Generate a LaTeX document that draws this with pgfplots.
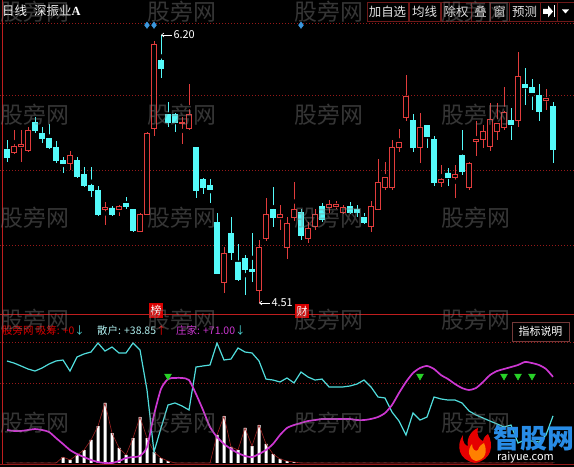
\documentclass[border=0pt]{standalone}
\usepackage{fontspec}
\setmainfont{Noto Sans CJK SC}
\newfontfamily\serifA{Liberation Serif}
\usepackage{pgfplots}
\usepackage{pgfplotstable}
\pgfplotsset{compat=1.18}
\usetikzlibrary{arrows.meta}

\definecolor{cred}{RGB}{225,60,60}
\definecolor{ccyan}{RGB}{84,250,250}
\definecolor{cgrid}{RGB}{150,25,25}
\definecolor{csep}{RGB}{190,30,30}
\definecolor{clcyan}{RGB}{80,220,220}
\definecolor{cmag}{RGB}{205,55,210}
\definecolor{cgreen}{RGB}{40,210,40}
\definecolor{cdiam}{RGB}{60,150,220}
\definecolor{cbox}{RGB}{110,25,25}
\definecolor{cxi}{RGB}{160,35,35}

% rising candles: index, open, high, low, close
\pgfplotstableread{
i O H L C
1 5.46 5.60 5.45 5.50
2 5.50 5.60 5.40 5.51
3 5.47 5.62 5.46 5.60
9 5.39 5.47 5.35 5.44
14 5.10 5.15 5.00 5.11
16 5.10 5.13 5.06 5.12
19 4.96 5.08 4.96 5.07
20 5.07 5.59 5.07 5.58
21 5.61 6.16 5.56 6.14
25 5.64 5.68 5.51 5.65
26 5.61 5.89 5.60 5.70
31 4.64 4.86 4.57 4.82
36 4.59 4.91 4.51 4.86
37 4.92 5.17 4.90 5.07
39 5.05 5.13 4.97 5.07
40 4.86 5.05 4.79 5.01
41 5.05 5.27 5.03 5.10
43 4.92 5.02 4.89 4.98
44 4.99 5.10 4.97 5.07
46 5.11 5.16 5.08 5.13
47 5.12 5.15 5.10 5.13
48 5.08 5.13 5.07 5.11
52 4.99 5.15 4.96 5.12
53 5.10 5.42 5.10 5.27
54 5.24 5.40 5.22 5.30
55 5.24 5.54 5.22 5.49
56 5.49 5.61 5.46 5.52
57 5.68 5.95 5.66 5.81
59 5.49 5.71 5.39 5.62
62 5.27 5.38 5.24 5.29
64 5.30 5.38 5.17 5.32
66 5.24 5.40 5.22 5.39
67 5.53 5.66 5.44 5.54
68 5.54 5.63 5.49 5.59
69 5.50 5.77 5.47 5.67
70 5.59 5.77 5.54 5.64
71 5.62 5.87 5.60 5.71
73 5.66 6.09 5.62 5.94
77 5.79 5.86 5.73 5.80
}\upk

% falling candles: index, open, high, low, close
\pgfplotstableread{
i O H L C
0 5.48 5.54 5.40 5.43
4 5.65 5.68 5.58 5.60
5 5.58 5.62 5.52 5.55
6 5.55 5.64 5.48 5.49
7 5.49 5.53 5.39 5.41
8 5.41 5.43 5.33 5.39
10 5.41 5.43 5.30 5.31
11 5.32 5.37 5.24 5.25
12 5.25 5.37 5.18 5.22
13 5.22 5.25 5.06 5.07
15 5.11 5.12 5.06 5.07
17 5.14 5.18 5.10 5.12
18 5.10 5.10 4.96 4.97
22 6.04 6.20 5.93 5.99
23 5.70 5.78 5.62 5.65
24 5.70 5.71 5.59 5.65
27 5.49 5.49 5.17 5.22
28 5.29 5.30 5.20 5.24
29 5.25 5.29 5.14 5.23
30 5.02 5.08 4.70 4.70
32 4.95 5.05 4.78 4.83
33 4.77 4.88 4.65 4.66
34 4.79 4.81 4.56 4.72
35 4.72 4.95 4.64 4.71
38 5.10 5.24 4.99 5.05
42 5.08 5.10 4.91 4.94
45 5.12 5.14 5.02 5.04
49 5.12 5.15 5.07 5.08
50 5.10 5.13 5.05 5.08
51 5.05 5.08 5.01 5.02
58 5.66 5.70 5.46 5.49
60 5.63 5.63 5.49 5.56
61 5.54 5.56 5.25 5.27
63 5.33 5.36 5.25 5.30
65 5.44 5.60 5.32 5.34
72 5.66 5.74 5.54 5.64
74 5.89 5.99 5.76 5.87
75 5.87 5.92 5.73 5.84
76 5.82 5.89 5.66 5.72
78 5.75 5.78 5.39 5.48
}\dnk

% indicator: san = retail, zhuang = main force, xi = accumulation
\pgfplotstableread{
i san zhuang xi
0 84.1 27.2 0
1 82.4 26.4 0
2 80.0 26.4 0
3 77.5 27.2 0
4 75.8 28.0 0
5 78.3 27.2 0
6 81.6 25.6 0
7 84.1 20.6 0
8 84.9 15.7 4.9
9 75.8 10.7 2.5
10 87.4 7.4 6.6
11 89.9 4.9 10.7
12 91.5 2.5 19.0
13 98.9 0.8 30.5
14 92.3 0 49.5
15 95.6 0 24.7
16 90.7 1.6 12.4
17 90.7 4.1 6.6
18 98.9 4.9 20.6
19 93.2 5.8 37.9
20 60.2 13.2 20.6
21 9.1 39.6 9.1
22 28.9 61.0 4.1
23 47.8 69.2 1.6
24 49.5 70.1 0
25 47.0 70.1 0
26 43.7 68.4 0
27 79.1 56.9 0
28 80.0 43.7 0
29 80.8 29.7 0
30 98.9 21.4 23.1
31 84.9 15.7 38.7
32 85.7 11.5 13.2
33 94.8 8.2 10.7
34 91.5 5.8 28.9
35 90.7 4.9 14.0
36 84.1 7.4 31.3
37 69.2 10.7 15.7
38 68.4 15.7 7.4
39 66.8 23.1 3.3
40 70.1 28.9 1.6
41 66.0 31.3 0.8
42 75.0 33.0 0
43 70.9 34.6 0
44 68.4 35.4 0
45 69.2 36.3 0
46 62.7 36.3 0
47 62.7 36.3 0
48 62.7 36.3 0
49 63.5 36.3 0
50 65.1 35.4 0
51 68.4 35.4 0
52 62.7 36.3 0
53 54.4 37.9 0
54 53.6 41.2 0
55 42.0 47.8 0
56 34.6 57.7 0
57 23.1 66.8 0
58 41.2 74.2 0
59 35.4 78.3 0
60 37.9 80.0 0
61 54.4 77.5 0
62 52.8 72.5 0
63 51.9 69.2 0
64 51.9 65.1 0
65 49.5 61.8 0
66 42.9 60.2 0
67 39.6 61.8 0
68 37.1 66.8 0
69 34.6 72.5 0
70 32.2 75.8 0
71 29.7 77.5 0
72 31.3 79.1 0
73 16.5 80.8 0
74 19.0 83.3 0
75 18.1 82.4 0
76 17.3 80.8 0
77 23.1 77.5 0
78 38.85 71.0 0
}\ind

\pgfplotsset{
  pricepanel/.style={
    at={(0bp,154bp)}, anchor=south west, scale only axis,
    width=574bp, height=290bp,
    xmin=-1, xmax=81, ymin=4.4469, ymax=6.2757,
    axis line style={draw=none}, xtick=\empty, ytick=\empty,
    major tick length=0pt,
  },
  indpanel/.style={
    at={(0bp,2bp)}, anchor=south west, scale only axis,
    width=574bp, height=123bp,
    xmin=-1, xmax=81, ymin=-1.65, ymax=99.75,
    axis line style={draw=none}, xtick=\empty, ytick=\empty,
    major tick length=0pt,
  },
  dotgrid/.style={ymajorgrids, yticklabels={},
    major grid style={draw=cgrid, line width=0.7bp, dash pattern=on 0.9bp off 2.1bp}},
}

\begin{document}
\begin{tikzpicture}[x=1bp,y=1bp]
\useasboundingbox (0,0) rectangle (574,467);
\clip (0,0) rectangle (574,467);
\fill[black] (0,0) rectangle (574,467);

% price panel: grid and wicks
\begin{axis}[pricepanel, dotgrid, ytick={4.8758,5.3487,5.8216,6.2757}, clip=false]
\addplot[only marks, mark=none, error bars/.cd, y dir=both, y explicit, error mark=none,
  error bar style={draw=cred, line width=0.9bp}]
  table[x=i, y expr={(\thisrow{H}+\thisrow{L})/2}, y error expr={(\thisrow{H}-\thisrow{L})/2}]{\upk};
\addplot[only marks, mark=none, error bars/.cd, y dir=both, y explicit, error mark=none,
  error bar style={draw=ccyan, line width=0.9bp}]
  table[x=i, y expr={(\thisrow{H}+\thisrow{L})/2}, y error expr={(\thisrow{H}-\thisrow{L})/2}]{\dnk};
\addplot[only marks, mark=diamond*, mark size=3.3bp, color=cdiam] coordinates {(20,6.262) (21,6.262) (42,6.262)};
\draw[white, line width=0.6bp, {Straight Barb[length=2.5bp,width=4bp]}-] (axis cs:22,6.20) -- (axis cs:23.6,6.20)
  node[right, inner sep=1bp, font=\fontsize{11}{11}\selectfont] {6.20};
\draw[white, line width=0.6bp, {Straight Barb[length=2.5bp,width=4bp]}-] (axis cs:36,4.51) -- (axis cs:37.6,4.51)
  node[right, inner sep=1bp, font=\fontsize{11}{11}\selectfont] {4.51};
\end{axis}

% rising candle bodies (hollow)
\begin{axis}[pricepanel, ybar stacked, bar width=5bp]
\addplot[draw=none, fill=none] table[x=i, y=O]{\upk};
\addplot[draw=cred, fill=black, line width=0.8bp] table[x=i, y expr={\thisrow{C}-\thisrow{O}}]{\upk};
\end{axis}

% falling candle bodies (filled)
\begin{axis}[pricepanel, ybar stacked, bar width=5.2bp]
\addplot[draw=none, fill=none] table[x=i, y=C]{\dnk};
\addplot[draw=ccyan, fill=ccyan, line width=0.5bp] table[x=i, y expr={\thisrow{O}-\thisrow{C}}]{\dnk};
\end{axis}

% indicator panel
\begin{axis}[indpanel, dotgrid, ytick={65.7,99.75}]
\addplot[ybar, bar width=3bp, fill=white, draw=none] table[x=i, y=xi]{\ind};
\addplot[cxi, line width=0.6bp] table[x=i, y=xi]{\ind};
\addplot[clcyan, line width=1.2bp] table[x=i, y=san]{\ind};
\addplot[cmag, line width=1.7bp, smooth, tension=0.4] table[x=i, y=zhuang]{\ind};
\addplot[only marks, mark=triangle*, mark options={rotate=180}, mark size=4bp, color=cgreen]
  coordinates {(23,71.7) (59,71.7) (71,71.7) (73,71.7) (75,71.7)};
\end{axis}

\begin{scope}[x=1bp, y=-1bp, yshift=467bp]
% frame lines
\draw[csep, line width=1bp] (2.5,0) -- (2.5,465);
\draw[csep, line width=1bp] (0,315) -- (574,315);
\draw[cgrid, line width=1bp] (0,465) -- (574,465);

% top bar
\node[anchor=west, text=white, inner sep=0, font=\fontsize{12.5}{12.5}\selectfont] at (2,11) {日线};
\node[anchor=west, text=white, inner sep=0, font=\fontsize{12.5}{12.5}\selectfont] at (34,11) {深振业{\serifA\bfseries A}};
\foreach \a/\b/\t in {367/408/加自选, 409/440/均线, 441/471/除权, 471/490/叠, 490/509/窗, 509/540/预测}{
  \draw[cbox, line width=0.8bp] (\a,2) rectangle (\b,21);
  \node[text=white!90!black, inner sep=0, font=\fontsize{12.5}{12.5}\selectfont] at ({(\a+\b)/2},11.5) {\t};
}
\draw[cbox, line width=0.8bp] (540,2) rectangle (557,21);
\draw[cbox, line width=0.8bp] (557,2) rectangle (574,21);
\fill[white] (543,9) -- (548,9) -- (548,5.5) -- (553,11.5) -- (548,17.5) -- (548,14) -- (543,14) -- cycle;
\fill[white] (553.5,5.5) rectangle (555,17.5);
\fill[white] (562,9.5) -- (569,9.5) -- (565.5,13.5) -- cycle;

% event tags
\fill[red!85!black] (149,303) rectangle (163,318);
\node[text=white, inner sep=0, font=\fontsize{11}{11}\selectfont] at (156,310.5) {榜};
\fill[red!85!black] (295,304) rectangle (309,318);
\node[text=white, inner sep=0, font=\fontsize{11}{11}\selectfont] at (302,311) {财};

% indicator header
\node[anchor=west, inner sep=0, font=\fontsize{10.5}{10.5}\selectfont] at (2,331)
  {\textcolor{red!85!black}{股旁网 吸筹: +0}\textcolor{clcyan}{↓}};
\node[anchor=west, inner sep=0, font=\fontsize{10.5}{10.5}\selectfont] at (97,331)
  {\textcolor{clcyan!45!white}{散户: +38.85}\textcolor{red}{↑}};
\node[anchor=west, inner sep=0, font=\fontsize{10.5}{10.5}\selectfont] at (176,331)
  {\textcolor{cmag}{庄家: +71.00}\textcolor{clcyan}{↓}};
\draw[cbox!70!gray, line width=0.8bp] (512,322) rectangle (569,341);
\node[text=white, inner sep=0, font=\fontsize{11}{11}\selectfont] at (540.5,331.5) {指标说明};

% watermark
\foreach \wx in {0,147,294,441}{
  \foreach \wy in {12,115,218,320,423}{
    \node[anchor=west, inner sep=0, text=gray, text opacity=0.42, font=\fontsize{23}{23}\selectfont] at (\wx,\wy) {股旁网};
  }
}

% site logo
\fill[red!90!black] (475,463) .. controls (458,460) and (456,445) .. (463,435)
  .. controls (462,443) and (466,446) .. (468,446) .. controls (466,438) and (472,430) .. (478,428)
  .. controls (476,436) and (480,440) .. (483,441) .. controls (484,437) and (486,435) .. (488,434)
  .. controls (494,445) and (492,460) .. (475,463) -- cycle;
\fill[orange] (476,461) .. controls (468,459) and (467,450) .. (472,444)
  .. controls (472,450) and (476,452) .. (478,450) .. controls (479,446) and (482,444) .. (484,443)
  .. controls (488,452) and (485,460) .. (476,461) -- cycle;
\node[anchor=west, inner sep=0, text={rgb,255:red,40;green,140;blue,230}, font=\fontsize{27}{27}\selectfont\bfseries] at (493,438) {智股网};
\node[anchor=west, inner sep=0, text=white, font=\fontsize{11}{11}\selectfont] at (497,458) {raiyue.com};
\end{scope}
\end{tikzpicture}
\end{document}
